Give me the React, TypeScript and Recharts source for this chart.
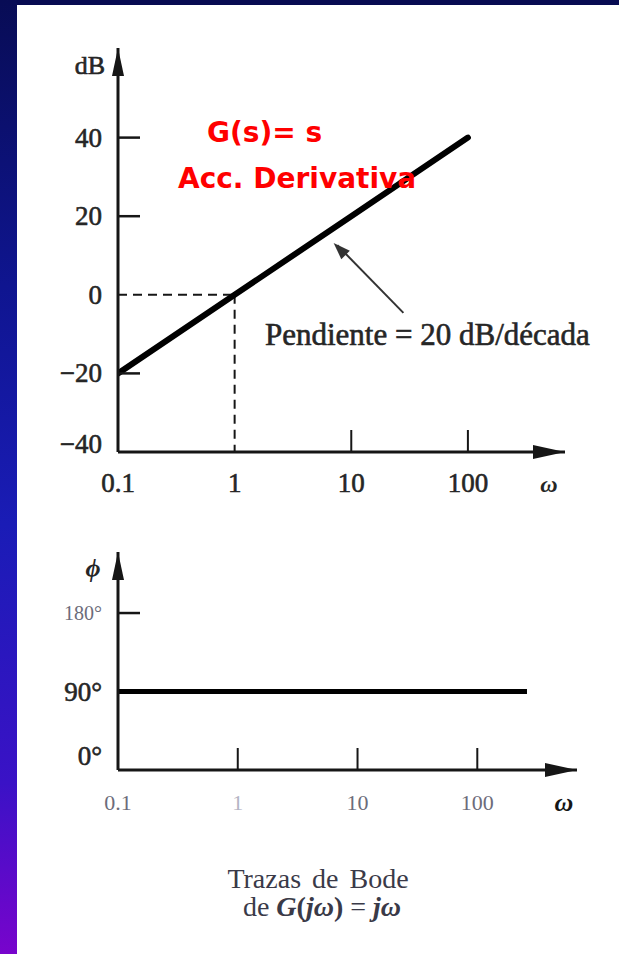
import React from 'react';
import { LineChart, Line, XAxis, YAxis, ReferenceLine, ReferenceDot } from 'recharts';

// Bode plot of G(s) = s : magnitude (dB) and phase (deg) vs omega
const magFreq = [0.1, 1, 10, 100];
const magDb = [-20, 0, 20, 40];
const phaseFreq = [0.1, 260];
const phaseDeg = [90, 90];

const freqTicks = [0.1, 1, 10, 100];
const freqLabels = ['0.1', '1', '10', '100'];
const dbTicks = [-40, -20, 0, 20, 40];
const dbLabels = ['−40', '−20', '0', '20', '40'];
const degTicks = [0, 90, 180];
const degLabels = ['0°', '90°', '180°'];

const magData = magFreq.map((w, i) => ({ w, db: magDb[i] }));
const phaseData = phaseFreq.map((w, i) => ({ w, phi: phaseDeg[i] }));

const SERIF = '"Liberation Serif", "Times New Roman", serif';
const SANS = '"DejaVu Sans", Verdana, sans-serif';
const INK = '#161616';
const TXT = '#262626';

// scanned text looks a bit heavier than plain Times
const heavy = { stroke: TXT, strokeWidth: 0.6 };

const MagYTick = (props: any) => {
  const { x, y, payload } = props;
  const v = payload.value as number;
  const hasMark = v === 40 || v === 20 || v === -20;
  return (
    <g>
      {hasMark && <line x1={x + 16} x2={x + 38} y1={y} y2={y} stroke={INK} strokeWidth={2.5} />}
      <text x={x} y={y + 9 - (v === -40 ? 8 : 0)} textAnchor="end" fontFamily={SERIF} fontSize={27} fill={TXT} {...heavy}>
        {dbLabels[dbTicks.indexOf(v)]}
      </text>
    </g>
  );
};

const MagXTick = (props: any) => {
  const { x, y, payload } = props;
  const v = payload.value as number;
  const hasMark = v === 10 || v === 100;
  return (
    <g>
      {hasMark && <line x1={x} x2={x} y1={y - 10} y2={y - 32} stroke={INK} strokeWidth={2} />}
      <text x={x} y={y + 30} textAnchor="middle" fontFamily={SERIF} fontSize={27} fill={TXT} {...heavy}>
        {freqLabels[freqTicks.indexOf(v)]}
      </text>
    </g>
  );
};

const PhaseYTick = (props: any) => {
  const { x, y, payload } = props;
  const v = payload.value as number;
  const small = v === 180;
  return (
    <g>
      {small && <line x1={x + 16} x2={x + 38} y1={y} y2={y} stroke={INK} strokeWidth={2.5} />}
      <text
        x={x}
        y={y + (small ? 7 : 9) - (v === 0 ? 14 : 0)}
        textAnchor="end"
        fontFamily={SERIF}
        fontSize={small ? 20 : 27}
        fill={small ? '#6c6c7a' : TXT}
        stroke={small ? 'none' : TXT}
        strokeWidth={0.6}
      >
        {degLabels[degTicks.indexOf(v)]}
      </text>
    </g>
  );
};

const PhaseXTick = (props: any) => {
  const { x, y, payload } = props;
  const v = payload.value as number;
  return (
    <g>
      {v !== 0.1 && <line x1={x} x2={x} y1={y - 10} y2={y - 32} stroke={INK} strokeWidth={2} />}
      <text x={x} y={y + 30} textAnchor="middle" fontFamily={SERIF} fontSize={22} fill={v === 1 ? '#b4b4c4' : '#6c6c7a'}>
        {freqLabels[freqTicks.indexOf(v)]}
      </text>
    </g>
  );
};

const upArrow = (p: any) => (
  <path d={`M${p.cx},${p.cy} L${p.cx - 6},${p.cy + 28} L${p.cx + 6},${p.cy + 28} Z`} fill={INK} />
);
const rightArrow = (p: any) => (
  <path d={`M${p.cx},${p.cy} L${p.cx - 32},${p.cy - 7} L${p.cx - 32},${p.cy + 7} Z`} fill={INK} />
);
const pointerHead = (p: any) => (
  <path d="M0,0 L-17,-6 L-17,6 Z" fill="#333" transform={`translate(${p.cx},${p.cy}) rotate(-134.6)`} />
);

const App: React.FC = () => {
  return (
    <div style={{ position: 'relative', width: 619, height: 954, background: '#fff', overflow: 'hidden' }}>
      <style>{'body{margin:0}'}</style>
      <div style={{ position: 'absolute', left: 0, top: 0, width: 619, height: 5, background: '#070b52' }} />
      <div
        style={{
          position: 'absolute',
          left: 0,
          top: 0,
          width: 17,
          height: 954,
          background: 'linear-gradient(to bottom, #080c55 0%, #0f1590 30%, #1a1cb6 55%, #3a12c6 82%, #7804cc 100%)',
        }}
      />

      <div style={{ position: 'absolute', left: 0, top: 0 }}>
        <LineChart width={619} height={520} data={magData} margin={{ top: 48, right: 54, bottom: 18, left: 58 }}>
          <XAxis
            dataKey="w"
            type="number"
            scale="log"
            domain={[0.1, 680]}
            ticks={freqTicks}
            interval={0}
            allowDataOverflow
            height={50}
            tickLine={false}
            tickSize={0}
            tickMargin={10}
            axisLine={{ stroke: INK, strokeWidth: 3 }}
            tick={<MagXTick />}
          />
          <YAxis
            type="number"
            domain={[-40, 62.8]}
            ticks={dbTicks}
            interval={0}
            allowDataOverflow
            width={60}
            tickLine={false}
            tickSize={0}
            tickMargin={16}
            axisLine={{ stroke: INK, strokeWidth: 3 }}
            tick={<MagYTick />}
          />
          <ReferenceLine segment={[{ x: 0.1, y: 0 }, { x: 1, y: 0 }]} stroke={INK} strokeWidth={2} strokeDasharray="9 6" />
          <ReferenceLine segment={[{ x: 1, y: 0 }, { x: 1, y: -40 }]} stroke={INK} strokeWidth={2} strokeDasharray="9 6" />
          <ReferenceLine segment={[{ x: 28, y: -4.6 }, { x: 7.6, y: 12.6 }]} stroke="#333" strokeWidth={2} />
          <ReferenceDot x={7.06} y={13.2} r={0} ifOverflow="visible" shape={pointerHead} />
          <ReferenceDot x={0.1} y={62.8} r={0} ifOverflow="visible" shape={upArrow} />
          <ReferenceDot x={680} y={-40} r={0} ifOverflow="visible" shape={rightArrow} />
          <Line
            dataKey="db"
            type="linear"
            stroke="#000"
            strokeWidth={6}
            strokeLinecap="round"
            dot={false}
            activeDot={false}
            isAnimationActive={false}
          />
        </LineChart>
      </div>

      <div style={{ position: 'absolute', left: 0, top: 530 }}>
        <LineChart width={619} height={320} data={phaseData} margin={{ top: 22, right: 42, bottom: 30, left: 58 }}>
          <XAxis
            dataKey="w"
            type="number"
            scale="log"
            domain={[0.1, 680]}
            ticks={freqTicks}
            interval={0}
            allowDataOverflow
            height={50}
            tickLine={false}
            tickSize={0}
            tickMargin={10}
            axisLine={{ stroke: INK, strokeWidth: 3 }}
            tick={<PhaseXTick />}
          />
          <YAxis
            type="number"
            domain={[0, 250]}
            ticks={degTicks}
            interval={0}
            allowDataOverflow
            width={60}
            tickLine={false}
            tickSize={0}
            tickMargin={16}
            axisLine={{ stroke: INK, strokeWidth: 3 }}
            tick={<PhaseYTick />}
          />
          <ReferenceDot x={0.1} y={250} r={0} ifOverflow="visible" shape={upArrow} />
          <ReferenceDot x={680} y={0} r={0} ifOverflow="visible" shape={rightArrow} />
          <Line
            dataKey="phi"
            type="linear"
            stroke="#000"
            strokeWidth={5}
            dot={false}
            activeDot={false}
            isAnimationActive={false}
          />
        </LineChart>
      </div>

      <svg width={619} height={954} style={{ position: 'absolute', left: 0, top: 0, pointerEvents: 'none' }}>
        <text x={105} y={74} textAnchor="end" fontFamily={SERIF} fontSize={26} fill={TXT} {...heavy}>dB</text>
        <text x={207} y={142} fontFamily={SANS} fontWeight="bold" fontSize={28} fill="#ff0000">G(s)= s</text>
        <text x={178} y={188} fontFamily={SANS} fontWeight="bold" fontSize={28} fill="#ff0000">Acc. Derivativa</text>
        <text x={265} y={345} fontFamily={SERIF} fontSize={31} fill={TXT} {...heavy}>Pendiente = 20 dB/década</text>
        <text x={549} y={492} textAnchor="middle" fontFamily={SERIF} fontStyle="italic" fontWeight="bold" fontSize={24} fill={TXT}>ω</text>
        <text x={93} y={577} textAnchor="middle" fontFamily={SERIF} fontStyle="italic" fontWeight="bold" fontSize={26} fill={TXT}>ϕ</text>
        <text x={564} y={811} textAnchor="middle" fontFamily={SERIF} fontStyle="italic" fontWeight="bold" fontSize={26} fill={INK}>ω</text>
        <text x={318} y={888} textAnchor="middle" fontFamily={SERIF} fontSize={28} wordSpacing={4} fill="#3a3a48">Trazas de Bode</text>
        <text x={322} y={916} textAnchor="middle" fontFamily={SERIF} fontSize={28} fill="#3a3a48">
          <tspan>de </tspan>
          <tspan fontStyle="italic" fontWeight="bold">G</tspan>
          <tspan fontWeight="bold">(</tspan>
          <tspan fontStyle="italic" fontWeight="bold">jω</tspan>
          <tspan fontWeight="bold">)</tspan>
          <tspan> = </tspan>
          <tspan fontStyle="italic" fontWeight="bold">jω</tspan>
        </text>
      </svg>
    </div>
  );
};

export default App;
